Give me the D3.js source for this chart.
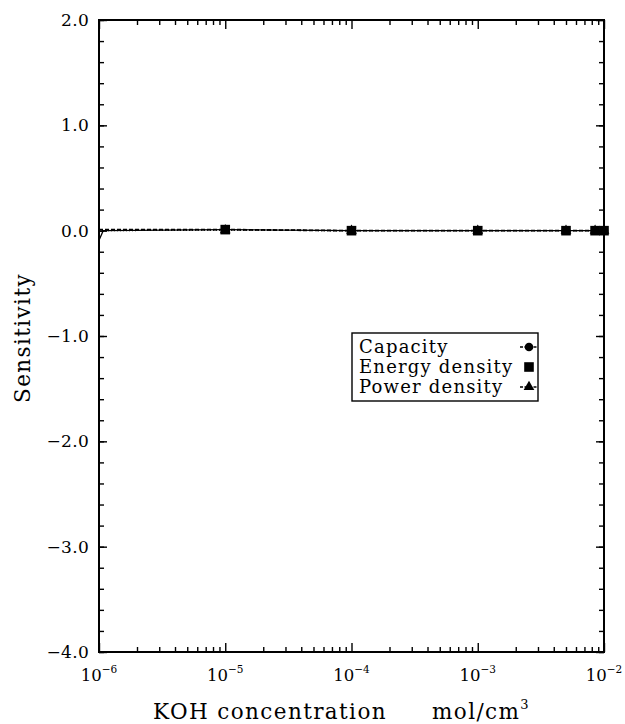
<!DOCTYPE html>
<html><head><meta charset="utf-8">
<script src="https://cdn.jsdelivr.net/npm/d3@7"></script>
<style>body{margin:0;background:#fff}svg{display:block}</style>
</head><body>
<script>
const concentration = [1e-6, 1.08e-6, 1e-5, 1e-4, 1e-3, 5e-3, 8.5e-3, 1e-2];
const capacity      = [0.01, 0.01, 0.01, 0.0, 0.0, 0.0, 0.0, 0.0];
const energyDensity = [-0.09, 0.0, 0.01, 0.0, 0.0, 0.0, 0.0, 0.0];
const powerDensity  = [0.0, 0.0, 0.005, 0.0, 0.0, 0.0, 0.0, 0.0];
const markerFrom = 2; // markers drawn from the 3rd point on
const seriesNames = ["Capacity", "Energy density", "Power density"];
const yTicks = [2, 1, 0, -1, -2, -3, -4];
const xTickExp = [-6, -5, -4, -3, -2];
const xTitle = "KOH concentration";
const xUnit = "mol/cm";
const yTitle = "Sensitivity";

const W = 625, H = 724;
const m = {l: 99, r: 604, t: 20, b: 652};
const svg = d3.select("body").append("svg").attr("width", W).attr("height", H)
  .style("font-family", "'DejaVu Serif', serif");

const x = d3.scaleLog().domain([1e-6, 1e-2]).range([m.l, m.r]);
const y = d3.scaleLinear().domain([-4, 2]).range([m.b, m.t]);

const minorY = d3.range(-4, 2.0001, 0.2).map(v => +v.toFixed(1));
const majorX = xTickExp.map(e => Math.pow(10, e));
const minorX = [];
for (let e = -6; e < -2; e++) for (let k = 2; k <= 9; k++) minorX.push(k * Math.pow(10, e));

function axisG(axis, tx, ty) {
  const g = svg.append("g").attr("transform", `translate(${tx},${ty})`).call(axis);
  g.select(".domain").remove();
  g.selectAll("text").remove();
  g.selectAll("line").attr("stroke", "#000").attr("stroke-width", 1.4);
  return g;
}
axisG(d3.axisLeft(y).tickValues(minorY).tickSize(-5), m.l, 0);
axisG(d3.axisLeft(y).tickValues(yTicks).tickSize(-8), m.l, 0);
axisG(d3.axisRight(y).tickValues(minorY).tickSize(-5), m.r, 0);
axisG(d3.axisRight(y).tickValues(yTicks).tickSize(-8), m.r, 0);
axisG(d3.axisBottom(x).tickValues(minorX).tickSize(-5), 0, m.b);
axisG(d3.axisBottom(x).tickValues(majorX).tickSize(-9), 0, m.b);
axisG(d3.axisTop(x).tickValues(minorX).tickSize(-5), 0, m.t);
axisG(d3.axisTop(x).tickValues(majorX).tickSize(-9), 0, m.t);

svg.append("rect").attr("x", m.l).attr("y", m.t).attr("width", m.r - m.l).attr("height", m.b - m.t)
  .attr("fill", "none").attr("stroke", "#000").attr("stroke-width", 2);

// y tick labels
svg.append("g").selectAll("text").data(yTicks).join("text")
  .attr("x", m.l - 10).attr("y", d => y(d)).attr("dy", "0.36em")
  .attr("text-anchor", "end").attr("font-size", 17).attr("letter-spacing", 0.3)
  .text(d => (d < 0 ? "\u2212" : "") + Math.abs(d).toFixed(1));

// x tick labels
const xl = svg.append("g").selectAll("text").data(xTickExp).join("text")
  .attr("x", d => x(Math.pow(10, d))).attr("y", m.b + 29)
  .attr("text-anchor", "middle").attr("font-size", 16.5);
xl.append("tspan").text("10");
xl.append("tspan").attr("dy", -8).attr("font-size", 10.5).text(d => "\u2212" + Math.abs(d));

// axis titles
svg.append("text").attr("x", 153).attr("y", 719).attr("font-size", 21.5)
  .attr("letter-spacing", 1.4).text(xTitle);
const xu = svg.append("text").attr("x", 432).attr("y", 719).attr("font-size", 21.5)
  .attr("letter-spacing", 1.4);
xu.append("tspan").text(xUnit);
xu.append("tspan").attr("dy", -10).attr("font-size", 13).text("3");
svg.append("text").attr("transform", `translate(30,338) rotate(-90)`)
  .attr("text-anchor", "middle").attr("font-size", 21.5).attr("letter-spacing", 1.4).text(yTitle);

// lines
const pts = s => concentration.map((c, i) => [c, s[i]]);
const line = d3.line().x(d => x(d[0])).y(d => y(d[1]));
svg.append("path").attr("d", line(pts(powerDensity))).attr("fill", "none")
  .attr("stroke", "#000").attr("stroke-width", 1.2).attr("stroke-dasharray", "1,2");
svg.append("path").attr("d", line(pts(capacity))).attr("fill", "none")
  .attr("stroke", "#000").attr("stroke-width", 1.8).attr("stroke-dasharray", "4,2");
svg.append("path").attr("d", line(pts(energyDensity))).attr("fill", "none")
  .attr("stroke", "#000").attr("stroke-width", 1.3);

// markers
const tri = d3.symbol().type(d3.symbolTriangle).size(50);
const sel = s => pts(s).filter((d, i) => i >= markerFrom);
svg.append("g").selectAll("path").data(sel(powerDensity)).join("path")
  .attr("d", tri).attr("transform", d => `translate(${x(d[0])},${y(d[1])})`).attr("fill", "#000");
svg.append("g").selectAll("circle").data(sel(capacity)).join("circle")
  .attr("cx", d => x(d[0])).attr("cy", d => y(d[1])).attr("r", 4.3).attr("fill", "#000");
svg.append("g").selectAll("rect").data(sel(energyDensity)).join("rect")
  .attr("x", d => x(d[0]) - 4.8).attr("y", d => y(d[1]) - 4.8).attr("width", 9.6).attr("height", 9.6).attr("fill", "#000");

// legend
const lg = svg.append("g").attr("transform", "translate(352,333)");
lg.append("rect").attr("width", 186).attr("height", 68).attr("fill", "#fff")
  .attr("stroke", "#000").attr("stroke-width", 1.4);
const rowY = [14, 34, 54];
lg.selectAll("text").data(seriesNames).join("text")
  .attr("x", 7).attr("y", (d, i) => rowY[i]).attr("dy", "0.36em").attr("font-size", 18)
  .attr("letter-spacing", 1.2).text(d => d);
const mx = 177;
lg.append("line").attr("x1", mx - 9).attr("x2", mx + 8).attr("y1", rowY[0]).attr("y2", rowY[0])
  .attr("stroke", "#000").attr("stroke-width", 1.3).attr("stroke-dasharray", "3,1.5");
lg.append("circle").attr("cx", mx).attr("cy", rowY[0]).attr("r", 4.3).attr("fill", "#000");
lg.append("rect").attr("x", mx - 4.8).attr("y", rowY[1] - 4.8).attr("width", 9.6).attr("height", 9.6).attr("fill", "#000");
lg.append("line").attr("x1", mx - 9).attr("x2", mx + 8).attr("y1", rowY[2]).attr("y2", rowY[2])
  .attr("stroke", "#000").attr("stroke-width", 1.3).attr("stroke-dasharray", "3,1.5");
lg.append("path").attr("d", d3.symbol().type(d3.symbolTriangle).size(50))
  .attr("transform", `translate(${mx},${rowY[2]})`).attr("fill", "#000");
</script>
</body></html>
